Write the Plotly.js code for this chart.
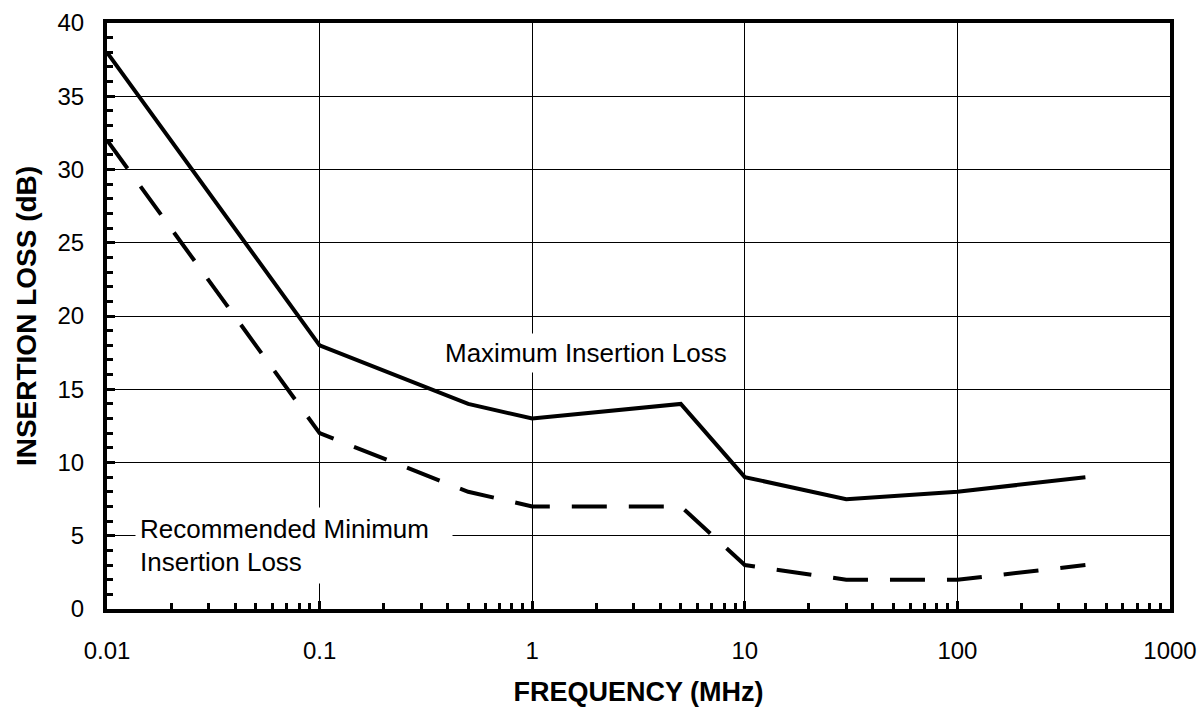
<!DOCTYPE html>
<html><head><meta charset="utf-8">
<script src="https://cdn.plot.ly/plotly-3.0.1.min.js"></script>
<style>html,body{margin:0;padding:0;background:#fff}</style>
</head><body><div id="chart" style="width:1201px;height:711px"></div>
<script>
const freqMHz = [0.01, 0.1, 0.5, 1, 5, 10, 30, 100, 400];
const maxLoss = [38, 18, 14, 13, 14, 9, 7.5, 8, 9];
const minLoss = [32, 12, 8, 7, 7, 3, 2, 2, 3];
const xTickVals = [0.01, 0.1, 1, 10, 100, 1000];
const xTickText = ['0.01', '0.1', '1', '10', '100', '1000'];

const font = 'Liberation Sans, Arial, sans-serif';
const traces = [
  {x: freqMHz, y: maxLoss, mode: 'lines', line: {color: '#000', width: 4}, name: 'Maximum Insertion Loss'},
  {x: freqMHz, y: minLoss, mode: 'lines', line: {color: '#000', width: 4, dash: '35px,22px'}, name: 'Recommended Minimum Insertion Loss'}
];
const layout = {
  width: 1201, height: 711,
  margin: {l: 107, r: 31, t: 23, b: 102},
  paper_bgcolor: '#fff', plot_bgcolor: '#fff',
  showlegend: false,
  font: {family: font, size: 24, color: '#000'},
  xaxis: {
    type: 'log', range: [-2, 3],
    tickvals: xTickVals, ticktext: xTickText,
    ticks: 'inside', ticklen: 8, tickwidth: 3, tickcolor: '#000',
    ticklabelstandoff: 17,
    showgrid: true, gridcolor: '#000', gridwidth: 1,
    showline: true, linecolor: '#000', linewidth: 4, mirror: true,
    zeroline: false,
    minor: {dtick: 'D1', ticks: 'inside', ticklen: 6, tickwidth: 3, tickcolor: '#000', showgrid: false},
    tickfont: {family: font, size: 24},
    title: {text: '<b>FREQUENCY (MHz)</b>', font: {family: font, size: 27}, standoff: 20}
  },
  yaxis: {
    range: [0, 40], dtick: 5,
    ticks: 'inside', ticklen: 8, tickwidth: 3, tickcolor: '#000',
    ticklabelstandoff: 14,
    showgrid: true, gridcolor: '#000', gridwidth: 1,
    showline: true, linecolor: '#000', linewidth: 4, mirror: true,
    zeroline: false,
    minor: {dtick: 1, ticks: 'inside', ticklen: 6, tickwidth: 3, tickcolor: '#000', showgrid: false},
    tickfont: {family: font, size: 24},
    title: {text: '<b>INSERTION LOSS (dB)</b>', font: {family: font, size: 28}, standoff: 14}
  },
  annotations: [
    {x: Math.log10(1.79), y: 17.5, xref: 'x', yref: 'y', text: 'Maximum Insertion Loss', showarrow: false,
     font: {family: font, size: 26}, xanchor: 'center', yanchor: 'middle', bgcolor: '#fff', borderpad: 4},
    {x: Math.log10(0.01355), y: 4.33, xref: 'x', yref: 'y', text: 'Recommended Minimum<br>Insertion Loss', showarrow: false,
     font: {family: font, size: 26}, xanchor: 'left', yanchor: 'middle', align: 'left', bgcolor: '#fff',
     width: 308, height: 67, borderpad: 4}
  ]
};
Plotly.newPlot('chart', traces, layout, {displayModeBar: false, staticPlot: true});
</script></body></html>
